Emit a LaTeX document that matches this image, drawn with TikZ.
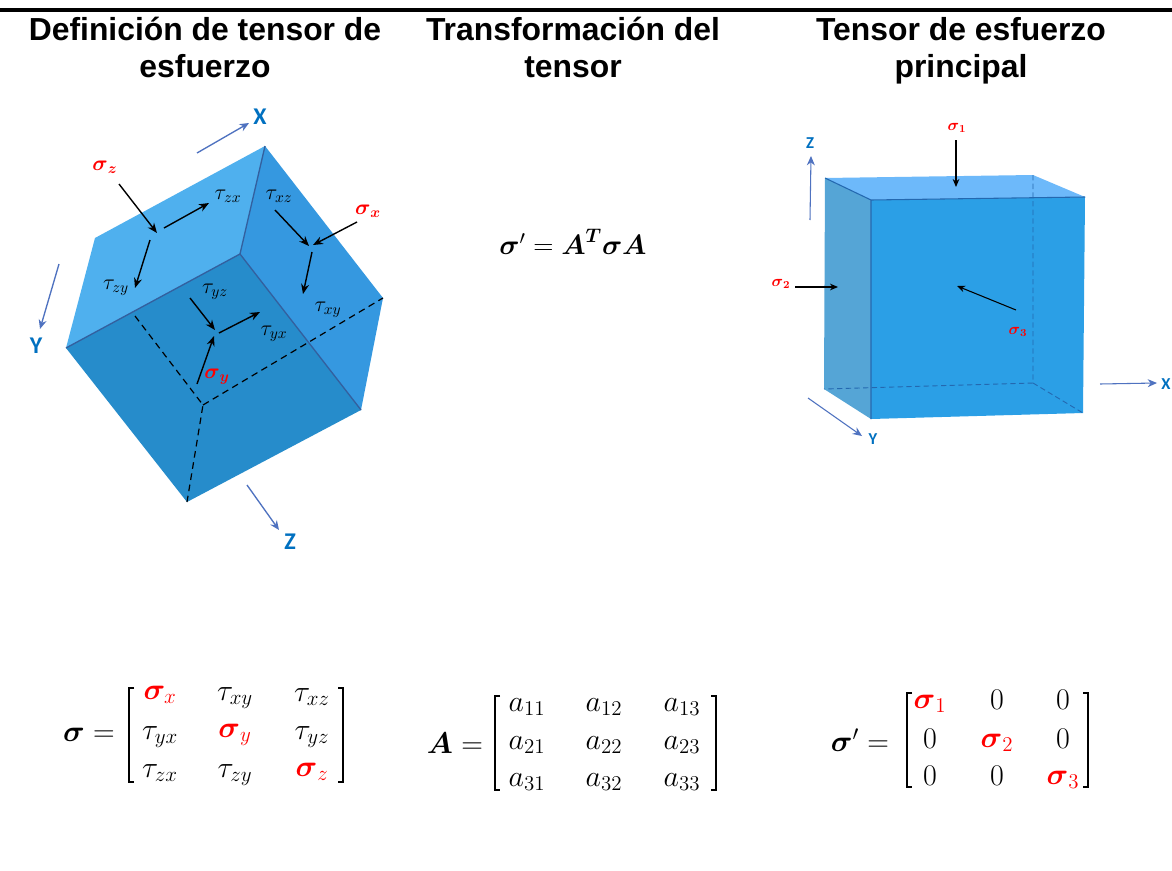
\RequirePackage{fix-cm}
\documentclass[tikz,border=0pt]{standalone}
\usepackage{amsmath}
\usepackage[no-math]{fontspec}
\setmainfont{Liberation Sans}
\newfontfamily\axisfont{Carlito}
\usetikzlibrary{arrows.meta}
\definecolor{topA}{HTML}{4FB0EE}
\definecolor{rightA}{HTML}{3598E0}
\definecolor{frontA}{HTML}{268CCB}
\definecolor{edgeA}{HTML}{33609F}
\definecolor{frontB}{HTML}{2B9FE6}
\definecolor{topB}{HTML}{6DB9FA}
\definecolor{leftB}{HTML}{55A5D6}
\definecolor{edgeB}{HTML}{2468B0}
\definecolor{axisblue}{HTML}{0070C0}
\definecolor{axisline}{HTML}{4F72C0}
\definecolor{sred}{HTML}{FF0000}
\newcommand{\sg}{\boldsymbol{\sigma}}
\newcommand{\fs}[1]{\fontsize{#1}{#1}\selectfont}
\tikzset{
  title/.style={font=\bfseries\fs{23.9}, anchor=base, inner sep=0pt},
  axisarrow/.style={draw=axisline, line width=1pt, -{Stealth[length=7pt,width=6pt]}},
  forcearrow/.style={draw=black, line width=1.05pt, -{Stealth[length=7.5pt,width=6pt]}},
  forcethin/.style={draw=black, line width=.8pt, -{Stealth[length=6pt,width=5pt]}},
  axisA/.style={font=\axisfont\bfseries\fs{18}, text=axisblue, inner sep=0pt},
  axisB/.style={font=\axisfont\bfseries\fs{12.5}, text=axisblue, inner sep=0pt},
  lab/.style={font=\fs{16.5}, inner sep=0pt},
  redlab/.style={font=\fs{16}, text=sred, inner sep=0pt},
  redsmall/.style={font=\fs{12}, text=sred, inner sep=0pt},
  ent/.style={font=\fs{22.5}, inner sep=0pt},
  brack/.style={draw=black, line width=1.2pt},
  cubeedge/.style={draw=edgeA, line width=1pt},
  dashA/.style={draw=black, line width=.9pt, dash pattern=on 5pt off 3.5pt},
  dashB/.style={draw=edgeB, line width=.7pt, dash pattern=on 4pt off 2.5pt},
}
\begin{document}
\begin{tikzpicture}[x=.75pt,y=-.75pt]
\useasboundingbox (0,0) rectangle (1172,871);
\fill[white] (0,0) rectangle (1172,871);
\fill[black] (0,8) rectangle (1172,11.5);

% titles
\node[title] (t1a) at (205,40) {Definición de tensor de};
\node[title] (t1b) at (205,77) {esfuerzo};
\node[title] (t2a) at (573,40) {Transformación del};
\node[title] (t2b) at (573,77) {tensor};
\node[title] (t3a) at (961,40) {Tensor de esfuerzo};
\node[title] (t3b) at (961,77) {principal};

% left cube
\coordinate (a) at (265,146);
\coordinate (b) at (95,238);
\coordinate (c) at (66,348);
\coordinate (o) at (240,254);
\coordinate (d) at (383,298);
\coordinate (e) at (361,410);
\coordinate (f) at (187,502);
\coordinate (g) at (203,405);
\coordinate (h) at (135,316);
\fill[topA] (a)--(b)--(c)--(o)--cycle;
\fill[rightA] (a)--(d)--(e)--(o)--cycle;
\fill[frontA] (c)--(o)--(e)--(f)--cycle;
\draw[cubeedge] (a)--(o) (c)--(o)--(e);
\draw[dashA] (h)--(g)--(f);
\draw[dashA] (g)--(d);

\draw[axisarrow] (197,153)--(249,123);
\draw[axisarrow] (59,264)--(40,329);
\draw[axisarrow] (247,485)--(279,530);
\node[axisA] (xa) at (260,117) {X};
\node[axisA] (ya) at (36,346) {Y};
\node[axisA] (za) at (290,542) {Z};

\draw[forcearrow] (119,184)--(157,233);
\draw[forcearrow] (164,228)--(209,203);
\draw[forcearrow] (150,240)--(135,288);
\draw[forcearrow] (275,210)--(309,246);
\draw[forcearrow] (357,222)--(313,245);
\draw[forcearrow] (312,252)--(303,294);
\draw[forcearrow] (190,298)--(215,330);
\draw[forcearrow] (219,333)--(260,312);
\draw[forcearrow] (197,384)--(214,336);

\node[redlab] (lsz) at (105,167) {$\sg_{\boldsymbol{z}}$};
\node[redlab] (lsx) at (368,211) {$\sg_{\boldsymbol{x}}$};
\node[redlab] (lsy) at (217,377) {$\sg_{\boldsymbol{y}}$};
\node[lab] (ltzx) at (228,196) {$\tau_{zx}$};
\node[lab] (ltzy) at (116,288) {$\tau_{zy}$};
\node[lab] (ltxz) at (279,196) {$\tau_{xz}$};
\node[lab] (ltxy) at (328,310) {$\tau_{xy}$};
\node[lab] (ltyz) at (215,292) {$\tau_{yz}$};
\node[lab] (ltyx) at (274,334) {$\tau_{yx}$};

% right cube
\coordinate (p) at (825,178);
\coordinate (q) at (1033,175);
\coordinate (r) at (871,200);
\coordinate (s) at (1085,197);
\coordinate (tt) at (871,419);
\coordinate (u) at (1083,413);
\coordinate (v) at (824,389);
\coordinate (w) at (1033,383);
\fill[frontB] (r)--(s)--(u)--(tt)--cycle;
\fill[topB] (p)--(q)--(s)--(r)--cycle;
\fill[leftB] (p)--(r)--(tt)--(v)--cycle;
\draw[draw=edgeB, line width=.8pt] (p)--(r)--(s) (r)--(tt);
\draw[dashB] (q)--(w)--(v) (w)--(u);

\draw[axisarrow,line width=.8pt] (810,220)--(811,156);
\draw[axisarrow,line width=.8pt] (1100,384)--(1157,383);
\draw[axisarrow,line width=.8pt] (808,398)--(862,436);
\node[axisB] (zb) at (810,143) {Z};
\node[axisB] (xb) at (1166,384) {X};
\node[axisB] (yb) at (873,439) {Y};

\draw[forcethin] (956,140)--(956,187);
\draw[forcethin] (795,287)--(838,287);
\draw[forcethin] (1016,310)--(957,286);
\node[redsmall] (ls1) at (957,128) {$\sg_{\mathbf{1}}$};
\node[redsmall] (ls2) at (781,284) {$\sg_{\mathbf{2}}$};
\node[redsmall] (ls3) at (1018,332) {$\sg_{\mathbf{3}}$};

% central equation
\node[font=\fs{21},inner sep=0pt] (eqn) at (573,242) {$\sg'=\boldsymbol{A}^{\boldsymbol{T}}\sg\boldsymbol{A}$};

% matrix sigma
\node[ent] (m1l) at (89,735) {$\sg=$};
\draw[brack] (134,688)--(129,688)--(129,782)--(134,782);
\draw[brack] (338,688)--(343,688)--(343,782)--(338,782);
\node[ent] (m11) at (160,695) {$\color{sred}\sg_{\mkern-1mu x}$};
\node[ent] (m12) at (235,698) {$\tau_{xy}$};
\node[ent] (m13) at (312,697) {$\tau_{xz}$};
\node[ent] (m21) at (160,737) {$\tau_{yx}$};
\node[ent] (m22) at (235,735) {$\color{sred}\sg_{y}$};
\node[ent] (m23) at (312,737) {$\tau_{yz}$};
\node[ent] (m31) at (160,773) {$\tau_{zx}$};
\node[ent] (m32) at (235,775) {$\tau_{zy}$};
\node[ent] (m33) at (312,772) {$\color{sred}\sg_{z}$};

% matrix A
\node[ent] (m2l) at (455,743) {$\boldsymbol{A}=$};
\draw[brack] (500,696)--(495,696)--(495,790)--(500,790);
\draw[brack] (711,696)--(716,696)--(716,790)--(711,790);
\node[ent] (a11) at (527,707) {$a_{11}$};
\node[ent] (a12) at (604,707) {$a_{12}$};
\node[ent] (a13) at (682,707) {$a_{13}$};
\node[ent] (a21) at (527,745) {$a_{21}$};
\node[ent] (a22) at (604,745) {$a_{22}$};
\node[ent] (a23) at (682,745) {$a_{23}$};
\node[ent] (a31) at (527,782) {$a_{31}$};
\node[ent] (a32) at (604,782) {$a_{32}$};
\node[ent] (a33) at (682,782) {$a_{33}$};

% matrix sigma'
\node[ent] (m3l) at (860,740) {$\sg'=$};
\draw[brack] (912,693)--(907,693)--(907,787)--(912,787);
\draw[brack] (1083,693)--(1088,693)--(1088,787)--(1083,787);
\node[ent] (d11) at (930,704) {$\color{sred}\sg_{1}$};
\node[ent] (d12) at (997,700) {$0$};
\node[ent] (d13) at (1063,700) {$0$};
\node[ent] (d21) at (930,739) {$0$};
\node[ent] (d22) at (997,743) {$\color{sred}\sg_{2}$};
\node[ent] (d23) at (1063,739) {$0$};
\node[ent] (d31) at (930,776) {$0$};
\node[ent] (d32) at (997,776) {$0$};
\node[ent] (d33) at (1063,780) {$\color{sred}\sg_{3}$};
\end{tikzpicture}
\end{document}
